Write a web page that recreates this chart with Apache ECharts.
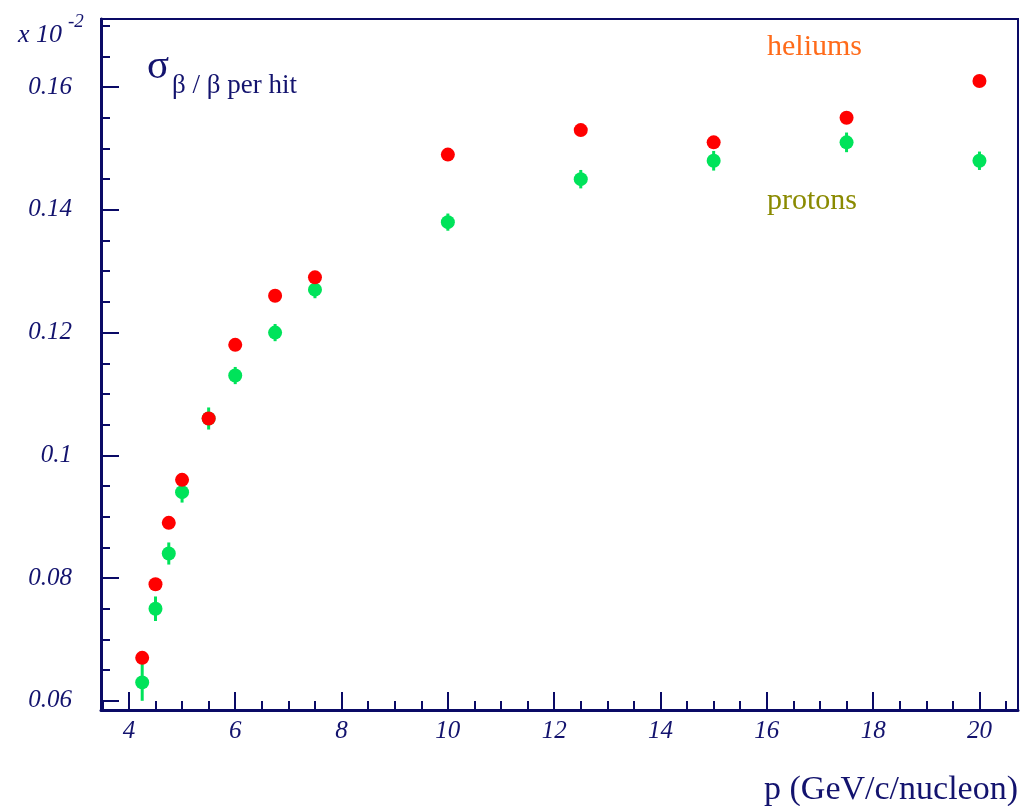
<!DOCTYPE html>
<html><head><meta charset="utf-8">
<script src="https://cdn.jsdelivr.net/npm/echarts@6/dist/echarts.min.js"></script>
<style>html,body{margin:0;padding:0;background:#fff}#c{width:1025px;height:806px}</style>
</head><body><div id="c"></div>
<script>
// Data (values shown in units of 10^-2)
const momentum   = [4.25, 4.5, 4.75, 5, 5.5, 6, 6.75, 7.5, 10, 12.5, 15, 17.5, 20];
const heliums    = [0.067, 0.079, 0.089, 0.096, 0.106, 0.118, 0.126, 0.129, 0.149, 0.153, 0.151, 0.155, 0.161];
const protons    = [0.063, 0.075, 0.084, 0.094, 0.106, 0.113, 0.120, 0.127, 0.138, 0.145, 0.148, 0.151, 0.148];
const protonErr  = [0.003, 0.002, 0.0018, 0.0017, 0.0018, 0.0014, 0.0014, 0.0014, 0.0014, 0.0015, 0.0016, 0.0016, 0.0015];
const xMajorTicks = [4, 6, 8, 10, 12, 14, 16, 18, 20];
const xMinorTicks = [3.5, 4.5, 5, 5.5, 6.5, 7, 7.5, 8.5, 9, 9.5, 10.5, 11, 11.5, 12.5, 13, 13.5, 14.5, 15, 15.5, 16.5, 17, 17.5, 18.5, 19, 19.5, 20.5];
const yMajorTicks = [0.06, 0.08, 0.1, 0.12, 0.14, 0.16];
const yMinorTicks = [0.065, 0.07, 0.075, 0.085, 0.09, 0.095, 0.105, 0.11, 0.115, 0.125, 0.13, 0.135, 0.145, 0.15, 0.155, 0.165, 0.17];

const NAVY = '#13136e';
const AXIS = '#0a0a66';
const RED = '#ff0000';
const GREEN = '#00e35a';
const SERIF = '"Liberation Serif", "DejaVu Serif", serif';

const chart = echarts.init(document.getElementById('c'), null, {renderer: 'canvas'});

const xCommon = {type: 'value', min: 3.475, max: 20.725, position: 'bottom', splitLine: {show: false}};
const yCommon = {type: 'value', min: 0.0585, max: 0.1711, position: 'left', splitLine: {show: false}};

chart.setOption({
  animation: false,
  backgroundColor: '#fff',
  grid: {left: 101, top: 19, right: 7, bottom: 96, show: true, borderColor: AXIS, borderWidth: 2, backgroundColor: 'transparent'},
  xAxis: [
    Object.assign({}, xCommon, {
      axisLine: {show: true, onZero: false, lineStyle: {color: AXIS, width: 3}},
      axisTick: {show: true, inside: true, length: 18, customValues: xMajorTicks, lineStyle: {color: AXIS, width: 2}},
      axisLabel: {show: true, customValues: xMajorTicks, margin: 9, color: NAVY, fontFamily: SERIF, fontStyle: 'italic', fontSize: 25}
    }),
    Object.assign({}, xCommon, {
      axisLine: {show: false, onZero: false},
      axisTick: {show: true, inside: true, length: 9, customValues: xMinorTicks, lineStyle: {color: AXIS, width: 2}},
      axisLabel: {show: false}
    })
  ],
  yAxis: [
    Object.assign({}, yCommon, {
      axisLine: {show: true, onZero: false, lineStyle: {color: AXIS, width: 3}},
      axisTick: {show: true, inside: true, length: 18, customValues: yMajorTicks, lineStyle: {color: AXIS, width: 2}},
      axisLabel: {show: true, customValues: yMajorTicks, margin: 29, color: NAVY, fontFamily: SERIF, fontStyle: 'italic', fontSize: 25}
    }),
    Object.assign({}, yCommon, {
      axisLine: {show: false, onZero: false},
      axisTick: {show: true, inside: true, length: 9, customValues: yMinorTicks, lineStyle: {color: AXIS, width: 2}},
      axisLabel: {show: false}
    })
  ],
  series: [
    {
      name: 'protons error', type: 'custom', xAxisIndex: 0, yAxisIndex: 0, z: 2,
      data: momentum.map((x, i) => [x, protons[i], protonErr[i]]),
      renderItem: function (params, api) {
        const x = api.value(0), y = api.value(1), e = api.value(2);
        const p1 = api.coord([x, y - e]);
        const p2 = api.coord([x, y + e]);
        return {type: 'line', shape: {x1: p1[0], y1: p1[1], x2: p2[0], y2: p2[1]}, style: {stroke: GREEN, lineWidth: 3}};
      }
    },
    {
      name: 'protons', type: 'scatter', xAxisIndex: 0, yAxisIndex: 0, z: 3,
      symbol: 'circle', symbolSize: 14, itemStyle: {color: GREEN, opacity: 1},
      data: momentum.map((x, i) => [x, protons[i]])
    },
    {
      name: 'heliums', type: 'scatter', xAxisIndex: 0, yAxisIndex: 0, z: 4,
      symbol: 'circle', symbolSize: 14, itemStyle: {color: RED, opacity: 1},
      data: momentum.map((x, i) => [x, heliums[i]])
    }
  ],
  graphic: [
    {type: 'text', left: 18, top: 22, style: {text: 'x 10', font: 'italic 26px ' + SERIF, fill: NAVY}},
    {type: 'text', left: 68, top: 12, style: {text: '-2', font: 'italic 19px ' + SERIF, fill: NAVY}},
    {type: 'text', left: 147, top: 47, style: {text: 'σ', font: '41px ' + SERIF, fill: NAVY}},
    {type: 'text', left: 172, top: 72, style: {text: 'β / β per hit', font: '27px ' + SERIF, fill: NAVY}},
    {type: 'text', left: 767, top: 32, style: {text: 'heliums', font: '30px ' + SERIF, fill: '#ff6b1a'}},
    {type: 'text', left: 767, top: 186, style: {text: 'protons', font: '30px ' + SERIF, fill: '#8a8a00'}},
    {type: 'text', right: 7, top: 773, style: {text: 'p (GeV/c/nucleon)', font: '34px ' + SERIF, fill: NAVY}}
  ]
});
</script>
</body></html>
